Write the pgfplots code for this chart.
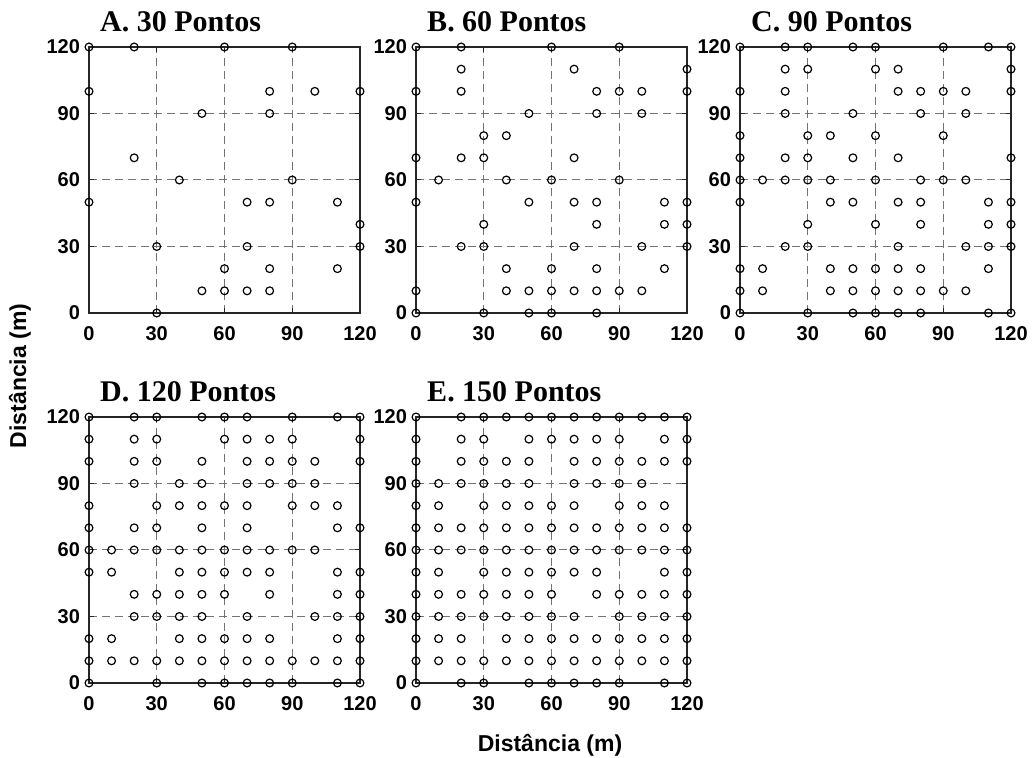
\documentclass[border=0pt]{standalone}
\usepackage{fontspec}
\setmainfont{Liberation Sans}
\newfontfamily\titlefont{Liberation Serif}
\usepackage{pgfplots}
\usepackage{pgfplotstable}
\pgfplotsset{compat=1.18}

\pgfplotstableread[row sep=\\]{x y\\
0 120\\ 20 120\\ 60 120\\ 90 120\\
0 100\\ 80 100\\ 100 100\\ 120 100\\
50 90\\ 80 90\\
20 70\\
40 60\\ 90 60\\
0 50\\ 70 50\\ 80 50\\ 110 50\\
120 40\\
30 30\\ 70 30\\ 120 30\\
60 20\\ 80 20\\ 110 20\\
50 10\\ 60 10\\ 70 10\\ 80 10\\
30 0\\
}\dataA

\pgfplotstableread[row sep=\\]{x y\\
0 120\\ 20 120\\ 60 120\\ 90 120\\
20 110\\ 70 110\\ 120 110\\
0 100\\ 20 100\\ 80 100\\ 90 100\\ 100 100\\ 120 100\\
50 90\\ 80 90\\ 100 90\\
30 80\\ 40 80\\
0 70\\ 20 70\\ 30 70\\ 70 70\\
10 60\\ 40 60\\ 60 60\\ 90 60\\
0 50\\ 50 50\\ 70 50\\ 80 50\\ 110 50\\ 120 50\\
30 40\\ 80 40\\ 110 40\\ 120 40\\
20 30\\ 30 30\\ 70 30\\ 100 30\\ 120 30\\
40 20\\ 60 20\\ 80 20\\ 110 20\\
0 10\\ 40 10\\ 50 10\\ 60 10\\ 70 10\\ 80 10\\ 90 10\\ 100 10\\
0 0\\ 30 0\\ 50 0\\ 60 0\\ 80 0\\
}\dataB

\pgfplotstableread[row sep=\\]{x y\\
0 120\\ 20 120\\ 30 120\\ 50 120\\ 60 120\\ 90 120\\ 110 120\\ 120 120\\
20 110\\ 30 110\\ 60 110\\ 70 110\\ 120 110\\
0 100\\ 20 100\\ 70 100\\ 80 100\\ 90 100\\ 100 100\\ 120 100\\
20 90\\ 50 90\\ 80 90\\ 100 90\\
0 80\\ 30 80\\ 40 80\\ 60 80\\ 90 80\\
0 70\\ 20 70\\ 30 70\\ 50 70\\ 70 70\\ 120 70\\
0 60\\ 10 60\\ 20 60\\ 30 60\\ 40 60\\ 60 60\\ 80 60\\ 90 60\\ 100 60\\
0 50\\ 40 50\\ 50 50\\ 70 50\\ 80 50\\ 110 50\\ 120 50\\
30 40\\ 60 40\\ 80 40\\ 110 40\\ 120 40\\
20 30\\ 30 30\\ 70 30\\ 100 30\\ 110 30\\ 120 30\\
0 20\\ 10 20\\ 40 20\\ 50 20\\ 60 20\\ 70 20\\ 80 20\\ 110 20\\
0 10\\ 10 10\\ 40 10\\ 50 10\\ 60 10\\ 70 10\\ 80 10\\ 90 10\\ 100 10\\
0 0\\ 30 0\\ 50 0\\ 60 0\\ 70 0\\ 80 0\\ 110 0\\ 120 0\\
}\dataC

\pgfplotstableread[row sep=\\]{x y\\
0 120\\ 20 120\\ 30 120\\ 50 120\\ 60 120\\ 70 120\\ 90 120\\ 110 120\\ 120 120\\
0 110\\ 20 110\\ 30 110\\ 60 110\\ 70 110\\ 80 110\\ 90 110\\ 120 110\\
0 100\\ 20 100\\ 30 100\\ 50 100\\ 70 100\\ 80 100\\ 90 100\\ 100 100\\ 120 100\\
20 90\\ 40 90\\ 50 90\\ 70 90\\ 80 90\\ 90 90\\ 100 90\\
0 80\\ 30 80\\ 40 80\\ 50 80\\ 60 80\\ 70 80\\ 90 80\\ 100 80\\ 110 80\\
0 70\\ 20 70\\ 30 70\\ 50 70\\ 70 70\\ 110 70\\ 120 70\\
0 60\\ 10 60\\ 20 60\\ 30 60\\ 40 60\\ 50 60\\ 60 60\\ 70 60\\ 80 60\\ 90 60\\ 100 60\\
0 50\\ 10 50\\ 40 50\\ 50 50\\ 60 50\\ 70 50\\ 80 50\\ 110 50\\ 120 50\\
20 40\\ 30 40\\ 40 40\\ 50 40\\ 60 40\\ 80 40\\ 110 40\\ 120 40\\
20 30\\ 30 30\\ 40 30\\ 50 30\\ 70 30\\ 100 30\\ 110 30\\ 120 30\\
0 20\\ 10 20\\ 40 20\\ 50 20\\ 60 20\\ 70 20\\ 80 20\\ 110 20\\ 120 20\\
0 10\\ 10 10\\ 20 10\\ 30 10\\ 40 10\\ 50 10\\ 60 10\\ 70 10\\ 80 10\\ 90 10\\ 100 10\\ 110 10\\ 120 10\\
0 0\\ 30 0\\ 50 0\\ 60 0\\ 70 0\\ 80 0\\ 90 0\\ 110 0\\ 120 0\\
}\dataD

\pgfplotstableread[row sep=\\]{x y\\
0 120\\ 20 120\\ 30 120\\ 40 120\\ 50 120\\ 60 120\\ 70 120\\ 80 120\\ 90 120\\ 100 120\\ 110 120\\ 120 120\\
0 110\\ 20 110\\ 30 110\\ 50 110\\ 60 110\\ 70 110\\ 80 110\\ 90 110\\ 110 110\\ 120 110\\
0 100\\ 20 100\\ 30 100\\ 40 100\\ 50 100\\ 70 100\\ 80 100\\ 90 100\\ 100 100\\ 110 100\\ 120 100\\
0 90\\ 10 90\\ 20 90\\ 30 90\\ 40 90\\ 50 90\\ 70 90\\ 80 90\\ 90 90\\ 100 90\\
0 80\\ 10 80\\ 30 80\\ 40 80\\ 50 80\\ 60 80\\ 70 80\\ 90 80\\ 100 80\\ 110 80\\
0 70\\ 10 70\\ 20 70\\ 30 70\\ 40 70\\ 50 70\\ 60 70\\ 70 70\\ 80 70\\ 90 70\\ 100 70\\ 110 70\\ 120 70\\
0 60\\ 10 60\\ 20 60\\ 30 60\\ 40 60\\ 50 60\\ 60 60\\ 70 60\\ 80 60\\ 90 60\\ 100 60\\ 110 60\\ 120 60\\
0 50\\ 10 50\\ 30 50\\ 40 50\\ 50 50\\ 60 50\\ 70 50\\ 80 50\\ 110 50\\ 120 50\\
0 40\\ 10 40\\ 20 40\\ 30 40\\ 40 40\\ 50 40\\ 60 40\\ 80 40\\ 90 40\\ 100 40\\ 110 40\\ 120 40\\
0 30\\ 10 30\\ 20 30\\ 30 30\\ 40 30\\ 50 30\\ 60 30\\ 70 30\\ 90 30\\ 100 30\\ 110 30\\ 120 30\\
0 20\\ 10 20\\ 20 20\\ 40 20\\ 50 20\\ 60 20\\ 70 20\\ 80 20\\ 90 20\\ 100 20\\ 110 20\\ 120 20\\
0 10\\ 10 10\\ 20 10\\ 30 10\\ 40 10\\ 50 10\\ 60 10\\ 70 10\\ 80 10\\ 90 10\\ 100 10\\ 110 10\\ 120 10\\
0 0\\ 20 0\\ 30 0\\ 50 0\\ 60 0\\ 70 0\\ 80 0\\ 90 0\\ 110 0\\ 120 0\\
}\dataE

\pgfplotsset{panel/.style={
  scale only axis, width=135.5pt, height=133pt,
  anchor=south west,
  xmin=0, xmax=120, ymin=0, ymax=120,
  xtick={0,30,60,90,120}, ytick={0,30,60,90,120},
  grid=major,
  major grid style={black!55, dash pattern=on 4pt off 2.5pt, line width=0.5pt},
  axis line style={black!85, line width=0.6pt},
  tick style={black!85, line width=0.5pt},
  major tick length=2.5pt, tick align=inside,
  /pgf/number format/assume math mode=true,
  ticklabel style={font=\fontsize{10}{12}\selectfont\bfseries},
  xticklabel style={yshift=-3pt},
  yticklabel style={xshift=-1pt},
  clip=false,
  axis on top=false,
}}
\pgfplotsset{pts/.style={only marks, mark=o, mark size=1.95pt, black, mark options={line width=0.6pt, black}}}

\newcommand{\ptitle}[1]{\node[anchor=west, inner sep=0pt, font=\titlefont\bfseries\fontsize{15}{18}\selectfont] at (rel axis cs:0.04,1.094) {#1};}

\begin{document}
\begin{tikzpicture}
\path[use as bounding box] (0,0) rectangle (516pt,379pt);

\begin{axis}[panel, at={(44.5pt,222.5pt)}]
\addplot[pts] table[x=x,y=y] {\dataA};
\ptitle{A. 30 Pontos}
\end{axis}

\begin{axis}[panel, at={(208pt,222.5pt)}]
\addplot[pts] table[x=x,y=y] {\dataB};
\ptitle{B. 60 Pontos}
\end{axis}

\begin{axis}[panel, at={(370pt,222.5pt)}]
\addplot[pts] table[x=x,y=y] {\dataC};
\ptitle{C. 90 Pontos}
\end{axis}

\begin{axis}[panel, at={(44.5pt,37.5pt)}]
\addplot[pts] table[x=x,y=y] {\dataD};
\ptitle{D. 120 Pontos}
\end{axis}

\begin{axis}[panel, at={(208pt,37.5pt)}]
\addplot[pts] table[x=x,y=y] {\dataE};
\ptitle{E. 150 Pontos}
\end{axis}

\node[rotate=90, font=\bfseries\fontsize{11.5}{14}\selectfont] at (10pt,191pt) {Distância (m)};
\node[font=\bfseries\fontsize{11.5}{14}\selectfont] at (275pt,6.5pt) {Distância (m)};
\end{tikzpicture}
\end{document}
